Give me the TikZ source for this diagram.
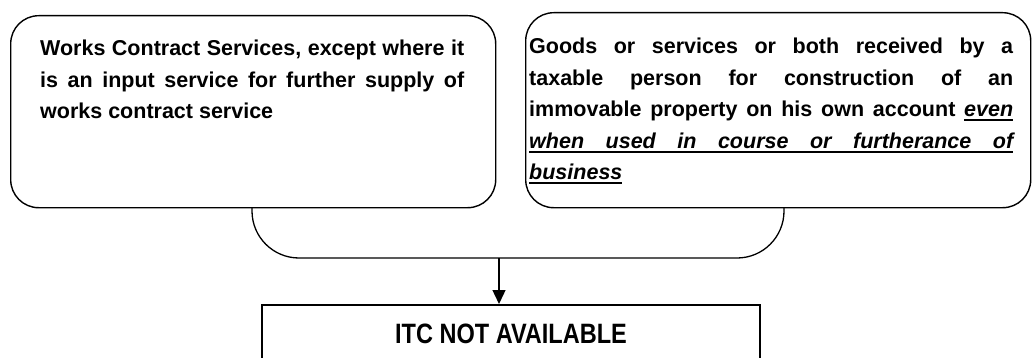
\documentclass[tikz,border=0pt]{standalone}
\usepackage{fontspec}
\setmainfont{Liberation Sans}
\newfontfamily\narrowfont[FakeStretch=0.84]{Liberation Sans}
\usetikzlibrary{arrows.meta}
\newcommand\ulw[1]{\setbox0\hbox{#1}\rlap{\rule[-4.5pt]{\wd0}{1.8pt}}\box0}
\newcommand\uls{\leaders\hrule height -2.7pt depth 4.5pt\hskip\fontdimen2\font plus\fontdimen3\font\relax}
\tolerance=10000
\hbadness=10000
\hyphenpenalty=10000
\begin{document}
\begin{tikzpicture}[x=1pt,y=-1pt,
  rbox/.style={draw, line width=1.4pt, rounded corners=28pt, inner sep=0pt, anchor=north west},
  txt/.style={anchor=north west, inner sep=0pt, align=justify,
    font=\fontsize{21.5}{31.5}\selectfont\bfseries},
  brace/.style={draw, line width=1.3pt, rounded corners=47pt},
  arr/.style={draw, line width=1.4pt, -{Triangle[length=14pt,width=13pt]}},
  itcbox/.style={draw, line width=2pt, inner sep=0pt, anchor=north west, minimum width=498pt, minimum height=58pt,
    font=\narrowfont\fontsize{28}{32}\selectfont\bfseries},
]
\useasboundingbox (0,0) rectangle (1032,358);
\node[rbox, minimum width=485pt, minimum height=192pt] (lbox) at (10,15) {};
\node[rbox, minimum width=505pt, minimum height=195pt] (rbox) at (525,12) {};
\node[txt, text width=424pt] (ltxt) at (40,40) {Works Contract Services, except where it\linebreak
is an input service for further supply of\linebreak
works contract service};
\node[txt, text width=484pt] (rtxt) at (529,38) {Goods or services or both received by a\linebreak
taxable person for construction of an\linebreak
immovable property on his own account \ulw{\itshape even}\linebreak
{\itshape\ulw{when}\uls\ulw{used}\uls\ulw{in}\uls\ulw{course}\uls\ulw{or}\uls\ulw{furtherance}\uls\ulw{of}}\linebreak
\ulw{\itshape business}};
\coordinate (bl) at (252,207);
\coordinate (br) at (784,207);
\coordinate (bm) at (499,258);
\node[itcbox] (itc) at (261,304) {ITC NOT AVAILABLE};
\draw[brace] (bl) -- (bl |- bm) -- (br |- bm) -- (br);
\draw[arr] (bm) -- (bm |- itc.north);
\end{tikzpicture}
\end{document}
